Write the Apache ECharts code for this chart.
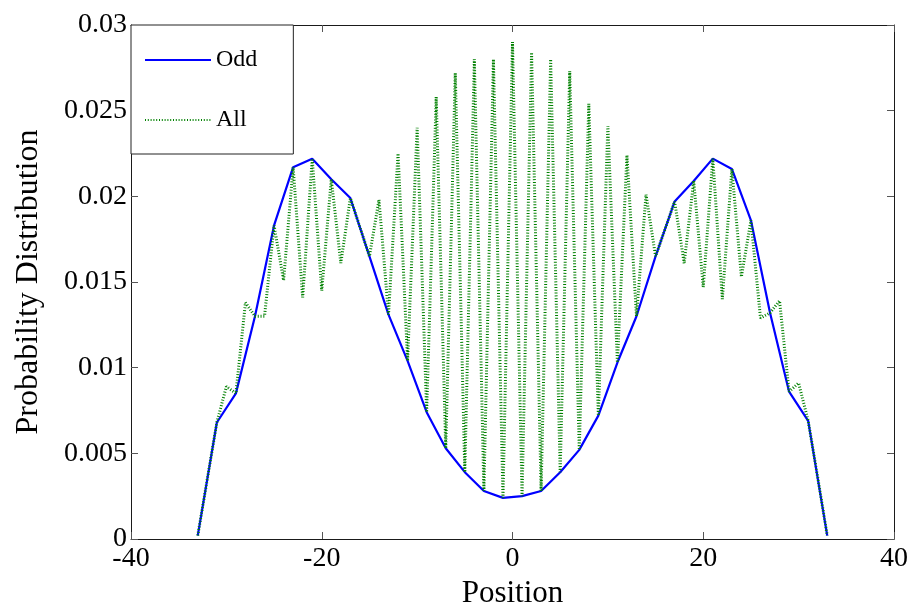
<!DOCTYPE html>
<html>
<head>
<meta charset="utf-8">
<script src="https://cdn.jsdelivr.net/npm/echarts@6/dist/echarts.min.js"></script>
<style>
html,body{margin:0;padding:0;background:#fff;}
#chart{width:911px;height:606px;}
</style>
</head>
<body>
<div id="chart"></div>
<script>
// ---- data ----
var oddPositions = [-33,-31,-29,-27,-25,-23,-21,-19,-17,-15,-13,-11,-9,-7,-5,-3,-1,
                    1,3,5,7,9,11,13,15,17,19,21,23,25,27,29,31,33];
var oddValues = [0.0002,0.0068,0.0085,0.0130,0.0183,0.0217,0.0222,0.0210,0.0199,0.0165,0.0131,0.0104,0.0074,0.0053,0.0039,0.0028,0.0024,
                 0.0025,0.0028,0.0039,0.0052,0.0072,0.0103,0.0130,0.0165,0.0197,0.0209,0.0222,0.0216,0.0186,0.0132,0.0086,0.0069,0.0002];
var evenPositions = [-32,-30,-28,-26,-24,-22,-20,-18,-16,-14,-12,-10,-8,-6,-4,-2,0,
                     2,4,6,8,10,12,14,16,18,20,22,24,26,28,30,32];
var evenValues = [0.0035,0.0089,0.0138,0.0130,0.0151,0.0141,0.0145,0.0161,0.0182,0.0198,0.0225,0.0240,0.0258,0.0272,0.0280,0.0280,0.0290,
                  0.0284,0.0280,0.0273,0.0254,0.0241,0.0224,0.0201,0.0181,0.0161,0.0147,0.0140,0.0153,0.0129,0.0139,0.0091,0.0036];
var xTicks = [-40,-20,0,20,40];
var yTicks = [0,0.005,0.01,0.015,0.02,0.025,0.03];
var seriesNames = ['Odd','All'];
var xTitle = 'Position';
var yTitle = 'Probability Distribution';

// ---- build series data ----
var oddData = oddPositions.map(function(p,i){return [p, oddValues[i]];});
var allData = [];
oddPositions.forEach(function(p,i){ allData.push([p, oddValues[i]]); });
evenPositions.forEach(function(p,i){ allData.push([p, evenValues[i]]); });
allData.sort(function(a,b){return a[0]-b[0];});

var FONT = '"Liberation Serif", "Times New Roman", serif';
var axisCol = '#1a1a1a';

function mkX(pos, showLabels){
  return {
    type:'value', position:pos, min:xTicks[0], max:xTicks[xTicks.length-1],
    interval:xTicks[1]-xTicks[0],
    axisLine:{show:true, onZero:false, lineStyle:{color:axisCol,width:1}},
    axisTick:{show:true, inside:true, length:7, lineStyle:{color:'#555'}},
    splitLine:{show:false},
    axisLabel:{show:showLabels, color:'#000', fontFamily:FONT, fontSize:28, margin:6},
    name: showLabels ? xTitle : '',
    nameLocation:'middle', nameGap:37,
    nameTextStyle:{color:'#000', fontFamily:FONT, fontSize:31}
  };
}
function mkY(pos, showLabels){
  return {
    type:'value', position:pos, min:yTicks[0], max:yTicks[yTicks.length-1],
    interval:yTicks[1]-yTicks[0],
    axisLine:{show:true, onZero:false, lineStyle:{color:axisCol,width:1}},
    axisTick:{show:true, inside:true, length:7, lineStyle:{color:'#555'}},
    splitLine:{show:false},
    axisLabel:{show:showLabels, color:'#000', fontFamily:FONT, fontSize:28, margin:4},
    name: showLabels ? yTitle : '',
    nameLocation:'middle', nameGap:86, nameRotate:90,
    nameTextStyle:{color:'#000', fontFamily:FONT, fontSize:32}
  };
}

var chart = echarts.init(document.getElementById('chart'), null, {renderer:'canvas'});
chart.setOption({
  animation:false,
  backgroundColor:'#fff',
  grid:{left:131, right:17, top:25, bottom:67, containLabel:false, outerBoundsMode:'none'},
  xAxis:[mkX('bottom', true), mkX('top', false)],
  yAxis:[mkY('left', true), mkY('right', false)],
  legend:{
    show:true, orient:'vertical', left:131, top:25,
    data:seriesNames,
    backgroundColor:'#fff', borderColor:'#222', borderWidth:1,
    padding:[23,36,22,13], itemGap:36, itemWidth:66, itemHeight:14,
    itemStyle:{opacity:0},
    textStyle:{color:'#000', fontFamily:FONT, fontSize:24},
    z:10
  },
  series:[
    {
      name:seriesNames[0], type:'line', data:oddData,
      xAxisIndex:0, yAxisIndex:0,
      symbol:'none', showSymbol:false, smooth:false,
      lineStyle:{color:'#0000ff', width:2.2},
      itemStyle:{color:'#0000ff'},
      z:2
    },
    {
      name:seriesNames[1], type:'line', data:allData,
      xAxisIndex:0, yAxisIndex:0,
      symbol:'none', showSymbol:false, smooth:false,
      lineStyle:{color:'#008000', width:3, type:[1,1.8]},
      itemStyle:{color:'#008000'},
      z:3
    }
  ]
});
</script>
</body>
</html>
